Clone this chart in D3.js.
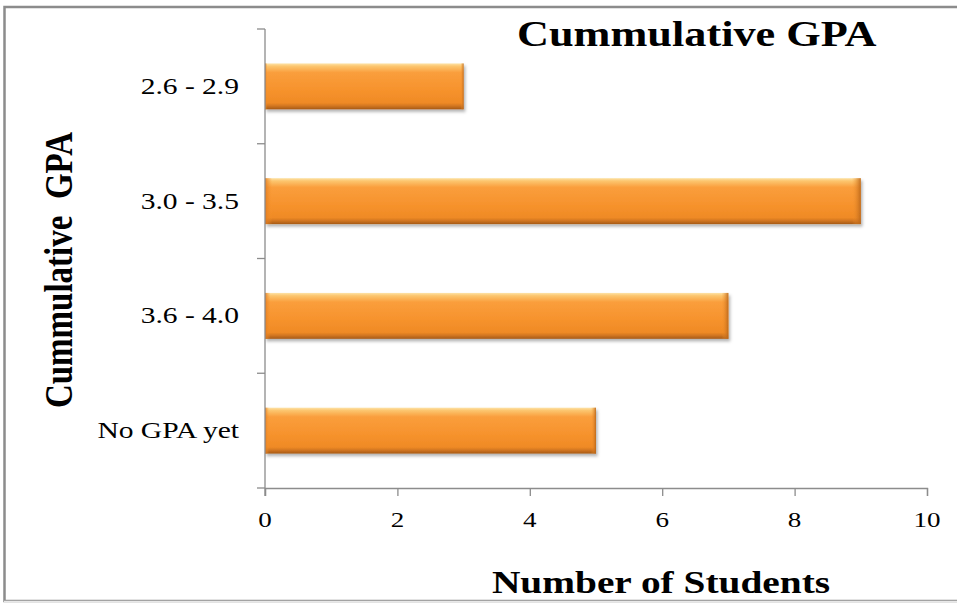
<!DOCTYPE html>
<html>
<head>
<meta charset="utf-8">
<script src="https://cdn.jsdelivr.net/npm/d3@7/dist/d3.min.js"></script>
<style>
  html, body { margin: 0; padding: 0; background: #fff; }
  svg { display: block; }
  svg text { font-family: "Liberation Serif", Tinos, "Times New Roman", Times, serif; fill: #000; }
</style>
</head>
<body>
<svg id="chart" width="957" height="603"></svg>
<script>
// GPA ranges, listed top to bottom
const categories = ["2.6 - 2.9", "3.0 - 3.5", "3.6 - 4.0", "No GPA yet"];
// Number of students in each range
const students = [3, 9, 7, 5];
// Horizontal axis ticks
const xTicks = [0, 2, 4, 6, 8, 10];

const svg = d3.select("#chart");
const W = 957, H = 603;
const plotLeft = 265, plotRight = 927, plotTop = 29, plotBottom = 488;
const stretch = 1.23;   // text is set slightly wide

// Outer frame
svg.append("rect")
  .attr("x", 4.5).attr("y", 7).attr("width", W + 10).attr("height", 594)
  .attr("fill", "#fff").attr("stroke", "#8c8c8c").attr("stroke-width", 2.5);
svg.append("line")
  .attr("x1", 4).attr("x2", W).attr("y1", 601.5).attr("y2", 601.5)
  .attr("stroke", "#e8e8e8").attr("stroke-width", 1.5);

const x = d3.scaleLinear().domain([0, 10]).range([plotLeft, plotRight]);
const y = d3.scaleBand().domain(categories).range([plotTop, plotBottom])
  .paddingInner(0.6).paddingOuter(0.3);

// Bevelled orange fill
const defs = svg.append("defs");
const gV = defs.append("linearGradient").attr("id", "barV")
  .attr("x1", 0).attr("y1", 0).attr("x2", 0).attr("y2", 1);
[[0, "#fde3a8"], [0.06, "#fcc66f"], [0.2, "#fa9e3c"], [0.6, "#f6922c"],
 [0.86, "#ef8a25"], [0.93, "#cf7420"], [1, "#a65a16"]]
  .forEach(([o, c]) => gV.append("stop").attr("offset", o).attr("stop-color", c));
const gH = defs.append("linearGradient").attr("id", "barH")
  .attr("x1", 0).attr("y1", 0).attr("x2", 1).attr("y2", 0);
[[0, "#e0791f", 0.9], [0.012, "#f7952f", 0], [0.985, "#f7952f", 0], [1, "#b8651a", 0.9]]
  .forEach(([o, c, a]) => gH.append("stop").attr("offset", o)
    .attr("stop-color", c).attr("stop-opacity", a));
const shadow = defs.append("filter").attr("id", "shadow")
  .attr("x", "-5%").attr("y", "-30%").attr("width", "110%").attr("height", "170%");
shadow.append("feDropShadow").attr("dx", 1.5).attr("dy", 2.5)
  .attr("stdDeviation", 1.8).attr("flood-color", "#000").attr("flood-opacity", 0.3);

const bars = svg.append("g");
categories.forEach((c, i) => {
  const g = bars.append("g").attr("filter", "url(#shadow)");
  g.append("rect")
    .attr("x", x(0)).attr("y", y(c))
    .attr("width", x(students[i]) - x(0)).attr("height", y.bandwidth())
    .attr("fill", "url(#barV)");
  g.append("rect")
    .attr("x", x(0)).attr("y", y(c))
    .attr("width", x(students[i]) - x(0)).attr("height", y.bandwidth())
    .attr("fill", "url(#barH)");
});

// Text helper: places a widened label at (px, py)
function label(px, py, str, size, anchor, bold, rotate) {
  return svg.append("text")
    .attr("transform", `translate(${px},${py}) scale(${stretch},1)` + (rotate ? ` rotate(${rotate})` : ""))
    .attr("text-anchor", anchor)
    .attr("font-size", size)
    .attr("font-weight", bold ? "bold" : "normal")
    .style("white-space", "pre")
    .text(str);
}

// Axes
const axisColor = "#8c8c8c";
const xAxis = svg.append("g").attr("transform", `translate(0,${plotBottom})`)
  .call(d3.axisBottom(x).tickValues(xTicks).tickSize(8).tickSizeOuter(8).tickFormat(""));
xAxis.select(".domain").attr("stroke", axisColor).attr("stroke-width", 1.3);
xAxis.selectAll(".tick line").attr("stroke", axisColor).attr("stroke-width", 1.3);
xTicks.forEach(t => label(x(t), 527, String(t), 22, "middle", false));

const yTickPos = categories.map(c => y(c) - y.step() * 0.3).concat([plotBottom]);
const yAxisG = svg.append("g").attr("transform", `translate(${plotLeft},0)`);
yAxisG.append("line").attr("x1", 0).attr("x2", 0).attr("y1", plotTop).attr("y2", plotBottom + 8)
  .attr("stroke", axisColor).attr("stroke-width", 1.3);
yAxisG.selectAll("line.tick").data(yTickPos).join("line").attr("class", "tick")
  .attr("x1", -8).attr("x2", 0).attr("y1", d => d).attr("y2", d => d)
  .attr("stroke", axisColor).attr("stroke-width", 1.3);
categories.forEach(c => label(239, y(c) + y.bandwidth() / 2 + 7.5, c, 24, "end", false));

// Titles
label(517, 46, "Cummulative GPA", 36, "start", true);
label(661, 593, "Number of Students", 32, "middle", true);
label(72, 270, "Cummulative  GPA", 33, "middle", true, -90);
</script>
</body>
</html>
